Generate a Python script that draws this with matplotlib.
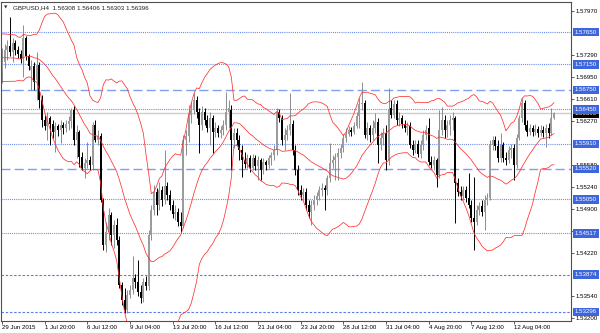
import matplotlib
matplotlib.use("Agg")
import matplotlib.pyplot as plt
import matplotlib.transforms as mtransforms
import numpy as np

plt.rcParams['font.family'] = ['Liberation Sans', 'DejaVu Sans']

# closes of the bars just left of the window, only needed to warm up the bands
prior_close = [1.5738, 1.5745, 1.5740, 1.5748, 1.5741, 1.5752, 1.5730, 1.5712, 1.5695, 1.5702,
               1.5715, 1.5735, 1.5722, 1.5705, 1.5692, 1.5702, 1.5725, 1.5745, 1.5740]

# GBPUSD H4, 29 Jun 2015 -> 14 Aug 2015
open_ = [1.5703, 1.5718, 1.5737, 1.5743, 1.5734, 1.5748, 1.5737, 1.5731, 1.5723, 1.5756,
         1.5728, 1.5706, 1.5712, 1.5690, 1.5714, 1.5659, 1.5628, 1.5619, 1.5631, 1.5622,
         1.5610, 1.5619, 1.5613, 1.5620, 1.5616, 1.5622, 1.5627, 1.5644, 1.5597, 1.5610,
         1.5571, 1.5553, 1.5561, 1.5566, 1.5558, 1.5620, 1.5597, 1.5603, 1.5504, 1.5434,
         1.5454, 1.5480, 1.5449, 1.5465, 1.5442, 1.5372, 1.5348, 1.5333, 1.5356, 1.5364,
         1.5382, 1.5376, 1.5361, 1.5351, 1.5376, 1.5370, 1.5449, 1.5488, 1.5516, 1.5496,
         1.5519, 1.5504, 1.5526, 1.5512, 1.5496, 1.5482, 1.5485, 1.5470, 1.5463, 1.5597,
         1.5603, 1.5636, 1.5644, 1.5659, 1.5641, 1.5620, 1.5641, 1.5628, 1.5616, 1.5631,
         1.5610, 1.5616, 1.5608, 1.5613, 1.5620, 1.5641, 1.5644, 1.5597, 1.5608, 1.5597,
         1.5582, 1.5566, 1.5560, 1.5569, 1.5553, 1.5569, 1.5557, 1.5566, 1.5550, 1.5563,
         1.5558, 1.5569, 1.5574, 1.5582, 1.5641, 1.5631, 1.5597, 1.5605, 1.5613, 1.5622,
         1.5582, 1.5550, 1.5519, 1.5512, 1.5516, 1.5496, 1.5485, 1.5496, 1.5504, 1.5510,
         1.5519, 1.5522, 1.5519, 1.5538, 1.5561, 1.5566, 1.5571, 1.5577, 1.5585, 1.5600,
         1.5606, 1.5613, 1.5610, 1.5619, 1.5635, 1.5653, 1.5655, 1.5605, 1.5616, 1.5605,
         1.5616, 1.5625, 1.5589, 1.5600, 1.5608, 1.5566, 1.5647, 1.5636, 1.5653, 1.5628,
         1.5631, 1.5622, 1.5616, 1.5619, 1.5589, 1.5582, 1.5591, 1.5575, 1.5589, 1.5605,
         1.5616, 1.5563, 1.5558, 1.5566, 1.5543, 1.5613, 1.5628, 1.5613, 1.5620, 1.5628,
         1.5631, 1.5530, 1.5516, 1.5510, 1.5519, 1.5507, 1.5496, 1.5476, 1.5470, 1.5488,
         1.5494, 1.5485, 1.5504, 1.5507, 1.5589, 1.5597, 1.5588, 1.5569, 1.5589, 1.5569,
         1.5566, 1.5582, 1.5585, 1.5558, 1.5600, 1.5631, 1.5655, 1.5620, 1.5610, 1.5616,
         1.5610, 1.5614, 1.5608, 1.5613, 1.5608, 1.5616, 1.5608, 1.56308]
close = [1.5718, 1.5737, 1.5743, 1.5734, 1.5748, 1.5737, 1.5731, 1.5723, 1.5756, 1.5728,
         1.5712, 1.5712, 1.5687, 1.5714, 1.5659, 1.5628, 1.5619, 1.5631, 1.5622, 1.5610,
         1.5619, 1.5613, 1.5620, 1.5616, 1.5622, 1.5627, 1.5644, 1.5597, 1.5610, 1.5571,
         1.5553, 1.5561, 1.5566, 1.5558, 1.5620, 1.5597, 1.5603, 1.5504, 1.5434, 1.5454,
         1.5480, 1.5449, 1.5465, 1.5442, 1.5372, 1.5348, 1.5333, 1.5356, 1.5364, 1.5382,
         1.5376, 1.5361, 1.5351, 1.5376, 1.5370, 1.5449, 1.5488, 1.5516, 1.5496, 1.5519,
         1.5504, 1.5526, 1.5512, 1.5496, 1.5482, 1.5485, 1.5470, 1.5463, 1.5597, 1.5603,
         1.5636, 1.5644, 1.5659, 1.5641, 1.5620, 1.5641, 1.5628, 1.5616, 1.5631, 1.5610,
         1.5616, 1.5608, 1.5613, 1.5620, 1.5641, 1.5647, 1.5597, 1.5608, 1.5597, 1.5582,
         1.5566, 1.5560, 1.5569, 1.5553, 1.5569, 1.5557, 1.5566, 1.5550, 1.5563, 1.5558,
         1.5569, 1.5574, 1.5582, 1.5641, 1.5631, 1.5597, 1.5605, 1.5613, 1.5622, 1.5582,
         1.5550, 1.5519, 1.5512, 1.5516, 1.5496, 1.5485, 1.5496, 1.5504, 1.5510, 1.5519,
         1.5522, 1.5519, 1.5538, 1.5561, 1.5566, 1.5571, 1.5577, 1.5585, 1.5600, 1.5606,
         1.5613, 1.5610, 1.5619, 1.5635, 1.5653, 1.5655, 1.5605, 1.5616, 1.5605, 1.5616,
         1.5625, 1.5589, 1.5600, 1.5608, 1.5566, 1.5644, 1.5636, 1.5653, 1.5628, 1.5631,
         1.5622, 1.5616, 1.5619, 1.5589, 1.5582, 1.5591, 1.5575, 1.5589, 1.5605, 1.5613,
         1.5563, 1.5558, 1.5566, 1.5543, 1.5613, 1.5628, 1.5613, 1.5620, 1.5628, 1.5631,
         1.5530, 1.5516, 1.5510, 1.5519, 1.5507, 1.5496, 1.5476, 1.5470, 1.5488, 1.5494,
         1.5485, 1.5504, 1.5507, 1.5589, 1.5597, 1.5588, 1.5569, 1.5589, 1.5569, 1.5566,
         1.5582, 1.5585, 1.5558, 1.5600, 1.5631, 1.5655, 1.5620, 1.5610, 1.5616, 1.5610,
         1.5614, 1.5608, 1.5613, 1.5608, 1.5616, 1.5608, 1.5631, 1.56396]
high = [1.5740, 1.5746, 1.5753, 1.5788, 1.5756, 1.5753, 1.5743, 1.5737, 1.5776, 1.5759,
        1.5731, 1.5721, 1.5718, 1.5734, 1.5718, 1.5667, 1.5636, 1.5641, 1.5635, 1.5628,
        1.5625, 1.5622, 1.5628, 1.5625, 1.5628, 1.5635, 1.5647, 1.5650, 1.5620, 1.5613,
        1.5578, 1.5569, 1.5594, 1.5572, 1.5625, 1.5628, 1.5613, 1.5608, 1.5507, 1.5470,
        1.5491, 1.5485, 1.5473, 1.5476, 1.5448, 1.5376, 1.5367, 1.5364, 1.5372, 1.5417,
        1.5389, 1.5411, 1.5372, 1.5382, 1.5386, 1.5457, 1.5496, 1.5527, 1.5522, 1.5532,
        1.5526, 1.5582, 1.5532, 1.5519, 1.5504, 1.5496, 1.5491, 1.5485, 1.5605, 1.5613,
        1.5652, 1.5656, 1.5670, 1.5665, 1.5647, 1.5650, 1.5647, 1.5636, 1.5641, 1.5636,
        1.5625, 1.5620, 1.5619, 1.5628, 1.5672, 1.5659, 1.5652, 1.5616, 1.5616, 1.5605,
        1.5589, 1.5578, 1.5575, 1.5574, 1.5575, 1.5574, 1.5572, 1.5569, 1.5569, 1.5566,
        1.5574, 1.5578, 1.5589, 1.5647, 1.5645, 1.5636, 1.5616, 1.5620, 1.5670, 1.5628,
        1.5589, 1.5558, 1.5527, 1.5522, 1.5522, 1.5504, 1.5504, 1.5512, 1.5516, 1.5526,
        1.5530, 1.5527, 1.5543, 1.5592, 1.5574, 1.5577, 1.5585, 1.5591, 1.5606, 1.5616,
        1.5619, 1.5618, 1.5625, 1.5641, 1.5662, 1.5687, 1.5659, 1.5625, 1.5620, 1.5628,
        1.5639, 1.5631, 1.5610, 1.5616, 1.5620, 1.5678, 1.5659, 1.5659, 1.5659, 1.5641,
        1.5636, 1.5628, 1.5625, 1.5625, 1.5597, 1.5597, 1.5597, 1.5597, 1.5613, 1.5620,
        1.5631, 1.5572, 1.5572, 1.5569, 1.5644, 1.5649, 1.5636, 1.5628, 1.5636, 1.5641,
        1.5635, 1.5538, 1.5526, 1.5526, 1.5526, 1.5546, 1.5504, 1.5540, 1.5496, 1.5501,
        1.5504, 1.5512, 1.5515, 1.5597, 1.5603, 1.5603, 1.5597, 1.5608, 1.5594, 1.5578,
        1.5588, 1.5591, 1.5591, 1.5606, 1.5636, 1.5662, 1.5659, 1.5628, 1.5622, 1.5620,
        1.5622, 1.5619, 1.5620, 1.5619, 1.5622, 1.5624, 1.5647, 1.56406]
low = [1.5686, 1.5709, 1.5721, 1.5728, 1.5718, 1.5729, 1.5725, 1.5717, 1.5695, 1.5721,
       1.5706, 1.5675, 1.5675, 1.5659, 1.5647, 1.5618, 1.5613, 1.5597, 1.5589, 1.5600,
       1.5578, 1.5603, 1.5592, 1.5606, 1.5610, 1.5613, 1.5616, 1.5589, 1.5569, 1.5555,
       1.5550, 1.5538, 1.5553, 1.5550, 1.5550, 1.5594, 1.5589, 1.5501, 1.5426, 1.5423,
       1.5442, 1.5434, 1.5429, 1.5434, 1.5367, 1.5341, 1.5328, 1.5328, 1.5351, 1.5358,
       1.5367, 1.5355, 1.5344, 1.5345, 1.5364, 1.5364, 1.5442, 1.5480, 1.5480, 1.5488,
       1.5494, 1.5498, 1.5504, 1.5488, 1.5476, 1.5473, 1.5463, 1.5454, 1.5460, 1.5574,
       1.5594, 1.5624, 1.5638, 1.5631, 1.5577, 1.5613, 1.5620, 1.5610, 1.5589, 1.5577,
       1.5602, 1.5602, 1.5600, 1.5605, 1.5613, 1.5616, 1.5550, 1.5585, 1.5589, 1.5566,
       1.5540, 1.5553, 1.5553, 1.5547, 1.5550, 1.5550, 1.5535, 1.5535, 1.5544, 1.5550,
       1.5553, 1.5558, 1.5566, 1.5574, 1.5625, 1.5589, 1.5582, 1.5597, 1.5605, 1.5574,
       1.5543, 1.5512, 1.5504, 1.5504, 1.5488, 1.5476, 1.5465, 1.5488, 1.5496, 1.5504,
       1.5510, 1.5488, 1.5512, 1.5532, 1.5553, 1.5535, 1.5535, 1.5569, 1.5578, 1.5594,
       1.5603, 1.5603, 1.5606, 1.5616, 1.5616, 1.5644, 1.5600, 1.5597, 1.5594, 1.5597,
       1.5608, 1.5561, 1.5582, 1.5589, 1.5550, 1.5558, 1.5631, 1.5631, 1.5620, 1.5619,
       1.5616, 1.5610, 1.5605, 1.5585, 1.5574, 1.5577, 1.5571, 1.5569, 1.5582, 1.5597,
       1.5558, 1.5553, 1.5550, 1.5524, 1.5538, 1.5605, 1.5600, 1.5602, 1.5605, 1.5613,
       1.5468, 1.5510, 1.5504, 1.5504, 1.5501, 1.5491, 1.5470, 1.5426, 1.5465, 1.5480,
       1.5479, 1.5457, 1.5496, 1.5504, 1.5582, 1.5582, 1.5563, 1.5563, 1.5563, 1.5558,
       1.5561, 1.5569, 1.5535, 1.5553, 1.5597, 1.5625, 1.5613, 1.5603, 1.5605, 1.5603,
       1.5605, 1.5602, 1.5603, 1.5602, 1.5586, 1.5600, 1.5605, 1.56303]

date_labels = ["29 Jun 2015", "1 Jul 20:00", "6 Jul 12:00", "9 Jul 04:00", "13 Jul 20:00",
               "16 Jul 12:00", "21 Jul 04:00", "23 Jul 20:00", "28 Jul 12:00", "31 Jul 04:00",
               "4 Aug 20:00", "7 Aug 12:00", "12 Aug 04:00"]
label_every = 16

level_dot = [1.57650, 1.57150, 1.56450, 1.55910, 1.55050, 1.54517]
level_dash = [1.56750, 1.55520]
level_sdash = [1.53874, 1.53296]

# scale labels (the ones fully under the level boxes are left out)
price_ticks = [1.57970, 1.57290, 1.56950, 1.56610, 1.56270, 1.55580,
               1.55240, 1.54900, 1.54560, 1.54220, 1.53540, 1.53200]

symbol = "GBPUSD,H4"
period = 20
deviation = 2.0


def bollinger(closes, n, k):
	mid, up, lo = [], [], []
	for i in range(n - 1, len(closes)):
		w = np.array(closes[i - n + 1:i + 1])
		m = w.mean()
		s = w.std()
		mid.append(m)
		up.append(m + k * s)
		lo.append(m - k * s)
	return np.array(mid), np.array(up), np.array(lo)


fig = plt.figure(figsize=(6, 3.33), dpi=100)
ax = fig.add_axes([1 / 600, 12 / 333, 570 / 600, 319 / 333])
ax.set_xlim(-0.375, 213.4)
ax.set_ylim(1.53156, 1.58117)

# level lines
for lv in level_dot:
	ax.axhline(lv, color='#6585ea', lw=0.8, dashes=(0.9, 1.0), zorder=1)
for lv in level_dash:
	ax.axhline(lv, color='#809ff0', lw=1.0, dashes=(6.5, 3.0), zorder=1)
for lv in level_sdash:
	ax.axhline(lv, color='#5a7ce8', lw=0.8, dashes=(2.2, 1.6), zorder=1)
# bid line
ax.axhline(close[-1], color='#cccccc', lw=1.0, zorder=0.8)

# candles
o = np.array(open_)
c = np.array(close)
h = np.array(high)
l = np.array(low)
x = np.arange(len(c))
bull = c >= o
wick_top = np.maximum(h, np.maximum(o, c))
wick_bot = np.minimum(l, np.minimum(o, c))
ax.vlines(x[bull], wick_bot[bull], wick_top[bull], color='#8c8c8c', lw=0.7, zorder=2)
ax.vlines(x[~bull], wick_bot[~bull], wick_top[~bull], color='#000000', lw=0.7, zorder=2)
body_h = np.maximum(np.abs(c - o), 0.00008)
body_b = np.minimum(o, c)
ax.bar(x[bull], body_h[bull], bottom=body_b[bull], width=0.8, color='#9c9c9c', lw=0, zorder=2.1)
ax.bar(x[~bull], body_h[~bull], bottom=body_b[~bull], width=0.8, color='#000000', lw=0, zorder=2.1)

# bollinger bands
allc = list(prior_close) + list(close)
mid, up, lo = bollinger(allc, period, deviation)
bx = np.arange(len(mid)) - (len(prior_close) - (period - 1))
for band in (up, mid, lo):
	ax.plot(bx, band, color='#ff3030', lw=0.55, zorder=3)

# axes frame
for sp in ax.spines.values():
	sp.set_color('#505050')
	sp.set_linewidth(0.8)

ax.yaxis.tick_right()
ax.set_yticks(price_ticks)
ax.set_yticklabels(['%.5f' % t for t in price_ticks])
ax.tick_params(axis='y', labelsize=4.4, length=2.2, width=0.6, pad=1.2, color='#404040')

xt = list(range(0, len(c), label_every))[:len(date_labels)]
ax.set_xticks(xt)
ax.set_xticklabels(date_labels)
ax.tick_params(axis='x', labelsize=4.4, length=2.2, width=0.6, pad=0.8, color='#404040')
for t in ax.get_xticklabels():
	t.set_ha('left')

# price boxes on the right
trans = mtransforms.blended_transform_factory(ax.transAxes, ax.transData)
ax.text(1.0065, close[-1] - 0.0001, '%.5f' % close[-1], transform=trans, fontsize=4.4,
	color='white', va='center', ha='left', clip_on=False, zorder=5,
	bbox=dict(boxstyle='square,pad=0.3', fc='black', ec='none'))
for lv in level_dot + level_dash + level_sdash:
	ax.text(1.0065, lv, '%.5f' % lv, transform=trans, fontsize=4.4, color='white',
		va='center', ha='left', clip_on=False, zorder=6,
		bbox=dict(boxstyle='square,pad=0.3', fc='#3d66dc', ec='none'))

# header
fig.text(4 / 600, 1 - 7.5 / 333, u'\u25bc', fontsize=3.2, color='#303030', va='center',
	family=['DejaVu Sans'])
fig.text(13 / 600, 1 - 7.5 / 333, '%s  %.5f %.5f %.5f %.5f' % (symbol, open_[-1], high[-1], low[-1], close[-1]),
	fontsize=4.5, color='#202020', va='center')

fig.savefig('out.png', dpi=100)
